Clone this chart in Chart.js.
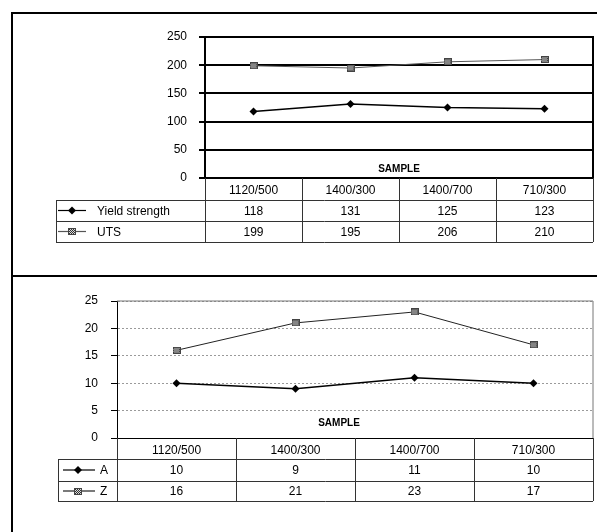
<!DOCTYPE html>
<html>
<head>
<meta charset="utf-8">
<script src="https://cdn.jsdelivr.net/npm/chart.js@4.4.1/dist/chart.umd.min.js"></script>
<style>
  html, body { margin: 0; padding: 0; background: #fff; }
  #wrap { position: relative; width: 597px; height: 532px; overflow: hidden; }
  canvas { position: absolute; left: 0; }
  #strength { top: 0; }
  #ductility { top: 275px; }
</style>
</head>
<body>
<div id="wrap">
  <canvas id="strength" width="597" height="275"></canvas>
  <canvas id="ductility" width="597" height="257"></canvas>
</div>
<script>
// Samples (heat treatment temperature / time)
const samples = ['1120/500', '1400/300', '1400/700', '710/300'];

// Strength values
const yieldStrength = [118, 131, 125, 123];
const uts = [199, 195, 206, 210];
const strengthTicks = [0, 50, 100, 150, 200, 250];

// Ductility values
const elongationA = [10, 9, 11, 10];
const reductionZ = [16, 21, 23, 17];
const ductilityTicks = [0, 5, 10, 15, 20, 25];

const axisTitle = 'SAMPLE';

Chart.defaults.font.family = '"Liberation Sans", Arial, Helvetica, sans-serif';
Chart.defaults.font.size = 12;
Chart.defaults.color = '#000';

// small cross-hatched square used as the second series marker
function hatchedSquare() {
  const c = document.createElement('canvas');
  c.width = 8; c.height = 7;
  const g = c.getContext('2d');
  g.fillStyle = '#d8d8d8';
  g.fillRect(0, 0, 8, 7);
  g.fillStyle = '#333';
  for (let y = 1; y < 6; y++) for (let x = 1; x < 7; x++) if ((x + y) % 2 === 0) g.fillRect(x, y, 1, 1);
  g.strokeStyle = '#444';
  g.lineWidth = 1;
  g.strokeRect(0.5, 0.5, 7, 6);
  return c;
}
const hatch = hatchedSquare();

function drawDiamond(ctx, x, y, r) {
  ctx.beginPath();
  ctx.moveTo(x, y - r); ctx.lineTo(x + r, y); ctx.lineTo(x, y + r); ctx.lineTo(x - r, y);
  ctx.closePath();
  ctx.fillStyle = '#000';
  ctx.fill();
}

// frame, panel border, axis caption and data table under the plot
const dataTable = {
  id: 'dataTable',
  afterDraw(chart, args, o) {
    const ctx = chart.ctx, ca = chart.chartArea, xs = chart.scales.x;
    const n = chart.data.labels.length;
    const half = (xs.getPixelForValue(1) - xs.getPixelForValue(0)) / 2;
    const edges = [ca.left];
    for (let i = 0; i < n; i++) edges.push(i === n - 1 ? ca.right : xs.getPixelForValue(i) + half);
    ctx.save();

    // plot frame (top and right)
    ctx.strokeStyle = o.frameColor; ctx.lineWidth = o.frameWidth;
    ctx.beginPath();
    ctx.moveTo(ca.left, ca.top); ctx.lineTo(ca.right, ca.top); ctx.lineTo(ca.right, ca.bottom);
    ctx.stroke();

    // panel border
    ctx.strokeStyle = '#000'; ctx.lineWidth = 2;
    ctx.beginPath();
    ctx.moveTo(12, chart.height); ctx.lineTo(12, o.panelTop); ctx.lineTo(chart.width, o.panelTop);
    ctx.stroke();

    // axis caption inside the plot
    ctx.font = 'bold 10px "Liberation Sans", Arial, sans-serif';
    ctx.fillStyle = '#000'; ctx.textAlign = 'center'; ctx.textBaseline = 'middle';
    ctx.fillText(axisTitle, (ca.left + ca.right) / 2 + o.captionDx, ca.bottom - o.captionDy);

    // table grid
    const rows = [ca.bottom];
    o.rowHeights.forEach(h => rows.push(rows[rows.length - 1] + h));
    const last = rows[rows.length - 1];
    ctx.strokeStyle = '#333'; ctx.lineWidth = 1;
    ctx.beginPath();
    for (let r = 1; r < rows.length; r++) {
      const y = Math.round(rows[r]) + 0.5;
      ctx.moveTo(o.tableLeft, y); ctx.lineTo(ca.right, y);
    }
    ctx.moveTo(o.tableLeft + 0.5, rows[1]); ctx.lineTo(o.tableLeft + 0.5, last);
    edges.forEach(x => { const px = Math.round(x) + 0.5; ctx.moveTo(px, ca.bottom); ctx.lineTo(px, last); });
    ctx.stroke();

    // legend keys and values
    ctx.font = '12px "Liberation Sans", Arial, sans-serif';
    chart.data.datasets.forEach((ds, d) => {
      const yc = (rows[d + 1] + rows[d + 2]) / 2;
      ctx.strokeStyle = ds.borderColor; ctx.lineWidth = 1.2;
      ctx.beginPath(); ctx.moveTo(o.keyX0, yc); ctx.lineTo(o.keyX1, yc); ctx.stroke();
      if (ds.pointStyle === 'rectRot') drawDiamond(ctx, o.keyMark, yc, 4);
      else ctx.drawImage(hatch, Math.round(o.keyMark - hatch.width / 2), Math.round(yc - hatch.height / 2));
      ctx.fillStyle = '#000'; ctx.textAlign = 'left';
      ctx.fillText(ds.label, o.keyText, yc + 1);
      ctx.textAlign = 'center';
      ds.data.forEach((v, i) => ctx.fillText(String(v), (edges[i] + edges[i + 1]) / 2, yc + 1));
    });
    ctx.restore();
  }
};

function makeChart(id, cfg) {
  return new Chart(document.getElementById(id), {
    type: 'line',
    data: {
      labels: samples,
      datasets: cfg.series.map(s => ({
        label: s.label,
        data: s.data,
        borderColor: s.color,
        borderWidth: s.width,
        pointStyle: s.marker === 'diamond' ? 'rectRot' : hatch,
        pointRadius: 4,
        pointBackgroundColor: '#000',
        pointBorderColor: '#000',
        pointBorderWidth: 0,
        tension: 0,
        fill: false
      }))
    },
    options: {
      responsive: false,
      animation: false,
      layout: { padding: { top: cfg.top, right: 4, left: 0, bottom: 0 } },
      plugins: { legend: { display: false }, tooltip: { enabled: false }, dataTable: cfg.table },
      scales: {
        x: {
          type: 'category',
          offset: true,
          grid: { display: false, drawTicks: false },
          border: { display: true, color: '#000', width: cfg.gridWidth },
          ticks: { padding: 5, maxRotation: 0, autoSkip: false, font: { size: 12 } },
          afterFit: s => { s.height = cfg.axisHeight; }
        },
        y: {
          min: cfg.ticks[0],
          max: cfg.ticks[cfg.ticks.length - 1],
          afterBuildTicks: s => { s.ticks = cfg.ticks.map(v => ({ value: v })); },
          grid: {
            color: cfg.gridColor, lineWidth: cfg.gridWidth,
            tickLength: 6, tickColor: '#000', tickWidth: cfg.gridWidth, tickBorderDash: []
          },
          border: { display: true, color: '#000', width: cfg.gridWidth, dash: cfg.gridDash },
          ticks: { padding: cfg.labelPad, font: { size: 12 } },
          afterFit: s => { s.width = cfg.left; }
        }
      }
    },
    plugins: [dataTable]
  });
}

makeChart('strength', {
  top: 37, left: 205, axisHeight: 97, labelPad: 12,
  ticks: strengthTicks,
  gridColor: '#000', gridWidth: 2, gridDash: [],
  series: [
    { label: 'Yield strength', data: yieldStrength, color: '#000', width: 1.5, marker: 'diamond' },
    { label: 'UTS', data: uts, color: '#555', width: 1, marker: 'hatch' }
  ],
  table: {
    frameColor: '#000', frameWidth: 2, panelTop: 13,
    captionDx: 0, captionDy: 9,
    rowHeights: [22, 21, 21], tableLeft: 56,
    keyX0: 58, keyX1: 86, keyMark: 72, keyText: 97
  }
});

makeChart('ductility', {
  top: 26, left: 117, axisHeight: 94, labelPad: 13,
  ticks: ductilityTicks,
  gridColor: '#9a9a9a', gridWidth: 1, gridDash: [2, 2],
  series: [
    { label: 'A', data: elongationA, color: '#000', width: 1.5, marker: 'diamond' },
    { label: 'Z', data: reductionZ, color: '#222', width: 1, marker: 'hatch' }
  ],
  table: {
    frameColor: '#777', frameWidth: 1, panelTop: 1,
    captionDx: -16, captionDy: 15,
    rowHeights: [21, 22, 20], tableLeft: 58,
    keyX0: 63, keyX1: 95, keyMark: 78, keyText: 100
  }
});
</script>
</body>
</html>
